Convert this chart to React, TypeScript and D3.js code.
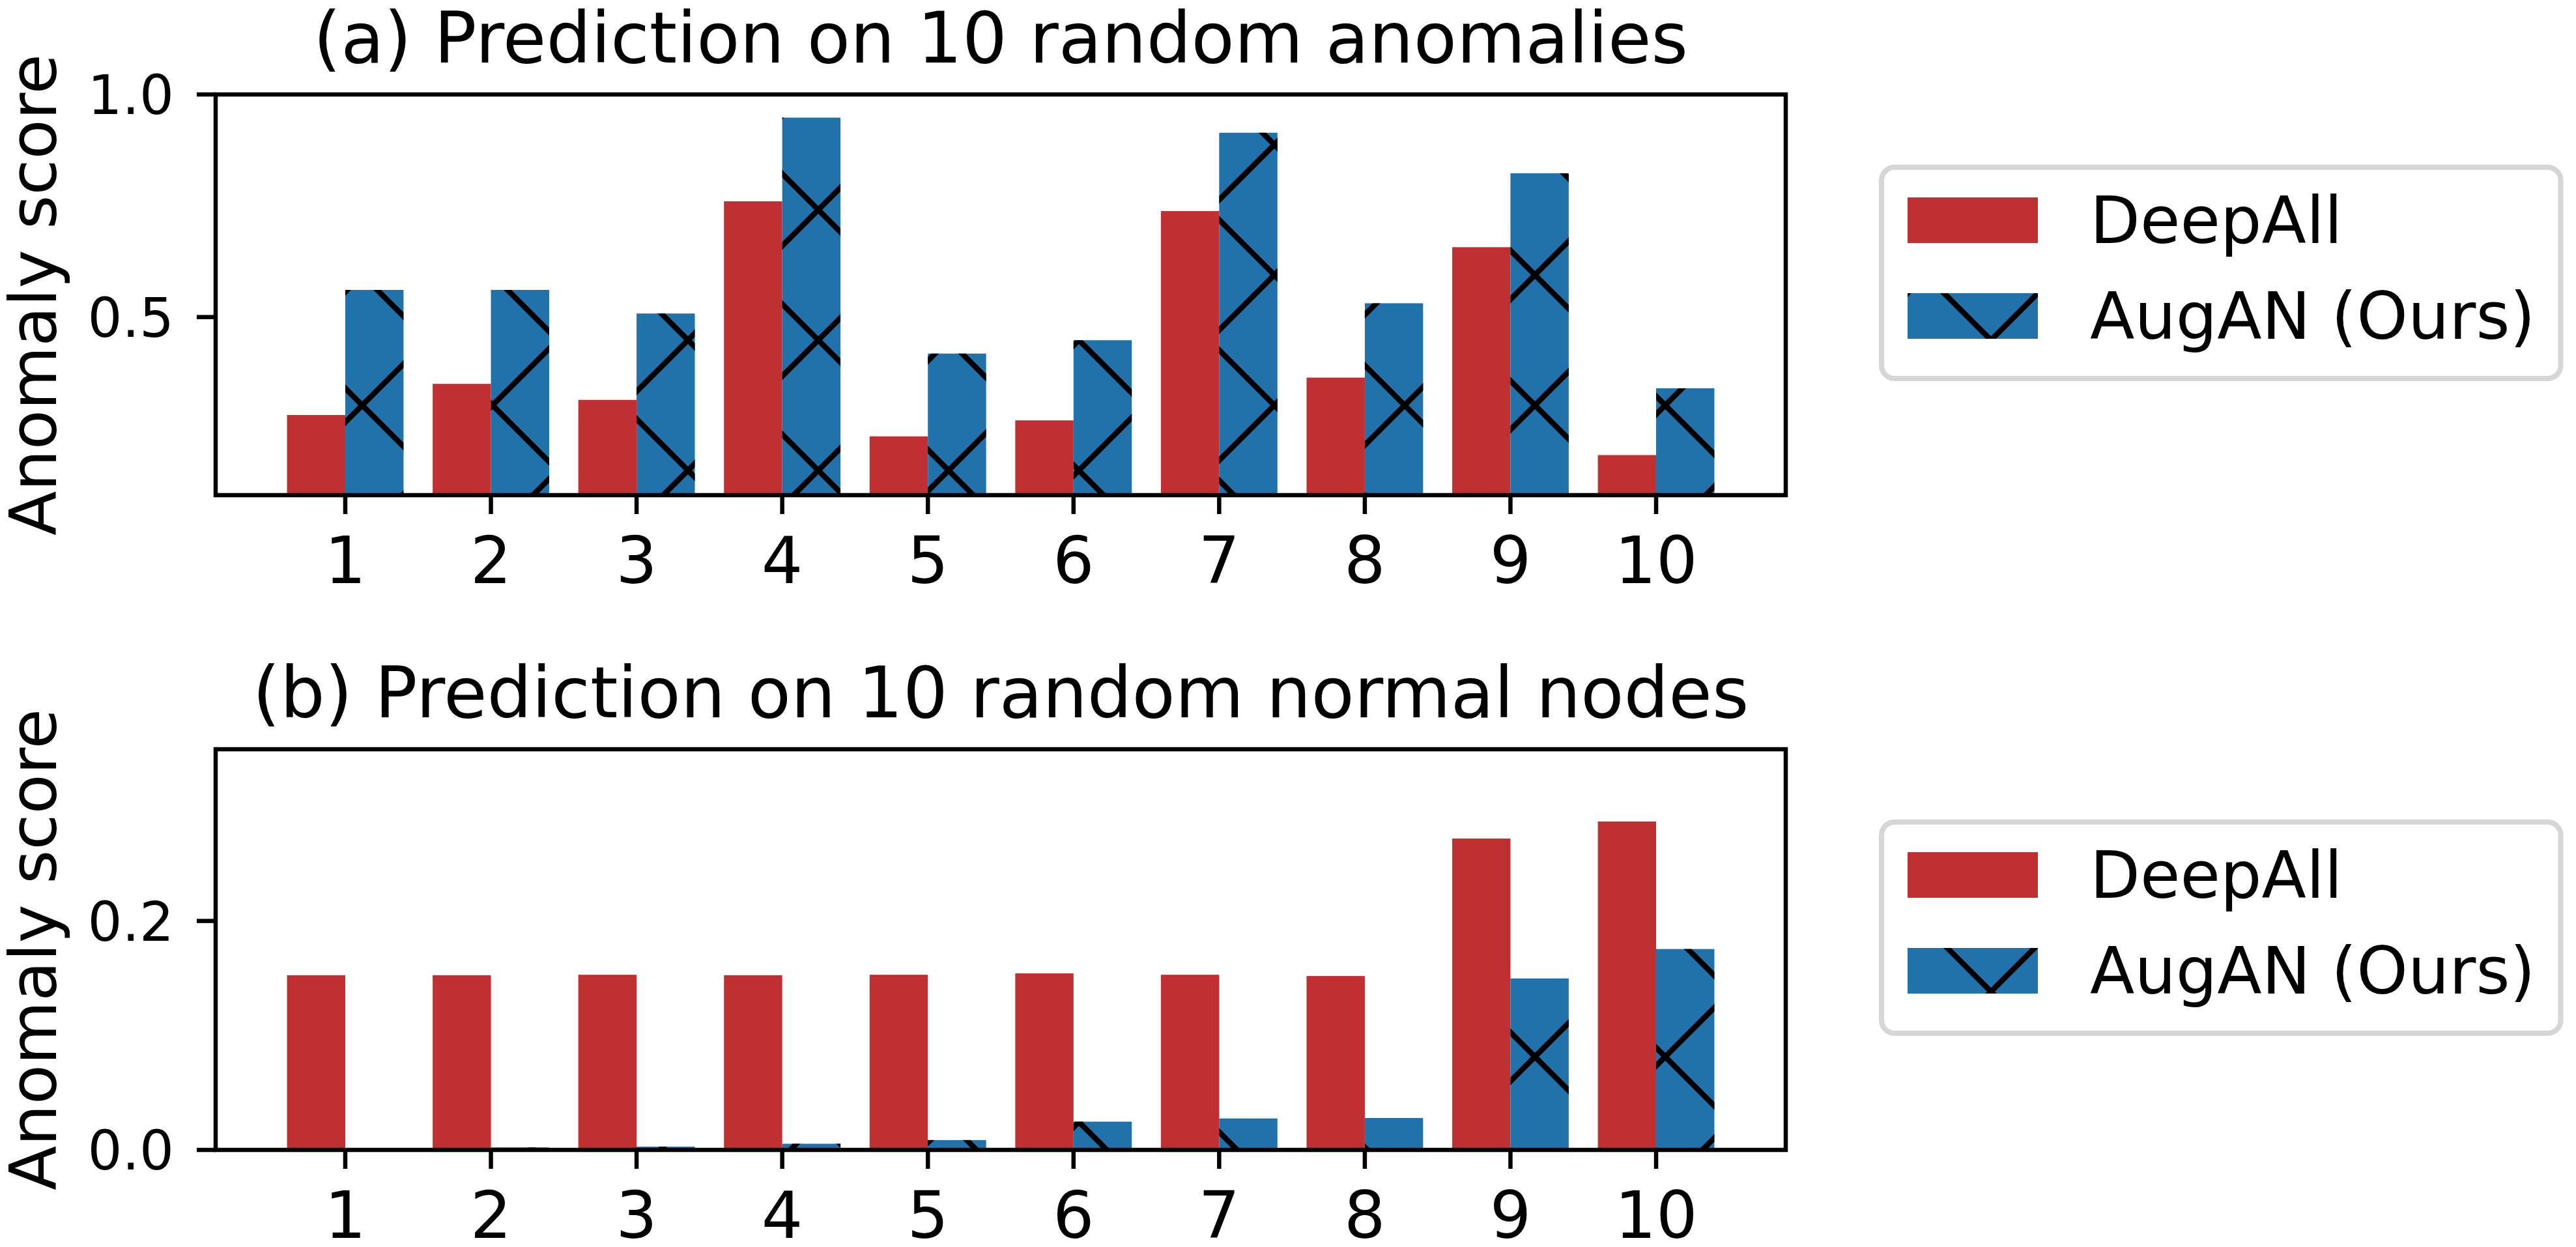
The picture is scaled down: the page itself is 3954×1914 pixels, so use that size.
import React from 'react';
import * as d3 from 'd3';

const categories = ['1', '2', '3', '4', '5', '6', '7', '8', '9', '10'];
const anomDeepAll = [0.280, 0.350, 0.314, 0.760, 0.232, 0.268, 0.738, 0.364, 0.657, 0.190];
const anomAugAN = [0.561, 0.561, 0.508, 0.948, 0.418, 0.448, 0.914, 0.531, 0.823, 0.340];
const normDeepAll = [0.1526, 0.1526, 0.1530, 0.1526, 0.1530, 0.1542, 0.1530, 0.1519, 0.2720, 0.2869];
const normAugAN = [0.0008, 0.0022, 0.0029, 0.0054, 0.0086, 0.0247, 0.0275, 0.0279, 0.1498, 0.1755];
const topTicks = [0.5, 1.0];
const bottomTicks = [0.0, 0.2];
const seriesNames = ['DeepAll', 'AugAN (Ours)'];
const titles = ['(a) Prediction on 10 random anomalies', '(b) Prediction on 10 random normal nodes'];

const W = 3954;
const H = 1914;
const RED = '#c02f31';
const BLUE = '#2171aa';
const FONT = 'DejaVu Sans, Verdana, sans-serif';

const xScale = d3.scaleLinear().domain([-0.89, 9.89]).range([331, 2741]);

type PanelProps = {
  top: number;
  domain: [number, number];
  ticks: number[];
  red: number[];
  blue: number[];
  title: string;
};

const Panel = ({ top, domain, ticks, red, blue, title }: PanelProps) => {
  const bottom = top + 615;
  const y = d3.scaleLinear().domain(domain).range([bottom, top]);
  const [x0, x1] = xScale.range();
  const base = y(domain[0]);
  const fmt = d3.format('.1f');
  const legTop = top + 111.7;
  return (
    <g>
      {categories.map((c, i) => {
        const rx = xScale(i - 0.4);
        const bx = xScale(i);
        const w = xScale(i) - xScale(i - 0.4);
        const ry = y(red[i]);
        const by = y(blue[i]);
        return (
          <g key={c}>
            <rect x={rx} y={ry} width={w} height={base - ry} fill={RED} />
            <rect x={bx} y={by} width={w} height={base - by} fill={BLUE} />
            <rect x={bx} y={by} width={w} height={base - by} fill="url(#hatchX)" />
          </g>
        );
      })}
      {/* spines */}
      <rect x={x0} y={top} width={x1 - x0} height={bottom - top} fill="none" stroke="#000" strokeWidth={6.5} />
      {/* y ticks */}
      {ticks.map((t) => (
        <g key={t}>
          <line x1={x0 - 29} x2={x0} y1={y(t)} y2={y(t)} stroke="#000" strokeWidth={6.5} />
          <text x={267} y={y(t) + 30.4} textAnchor="end" fontSize={83.3} fontFamily={FONT} fill="#000">
            {fmt(t)}
          </text>
        </g>
      ))}
      {/* x ticks */}
      {categories.map((c, i) => (
        <g key={c}>
          <line x1={xScale(i)} x2={xScale(i)} y1={bottom} y2={bottom + 29} stroke="#000" strokeWidth={6.5} />
          <text x={xScale(i)} y={bottom + 135} textAnchor="middle" fontSize={100} fontFamily={FONT} fill="#000">
            {c}
          </text>
        </g>
      ))}
      {/* y label */}
      <text
        transform={`translate(86,${(top + bottom) / 2}) rotate(-90)`}
        textAnchor="middle"
        fontSize={100}
        fontFamily={FONT}
        fill="#000"
      >
        Anomaly score
      </text>
      {/* title */}
      <text x={(x0 + x1) / 2} y={top - 49.3} textAnchor="middle" fontSize={108.3} fontFamily={FONT} fill="#000">
        {title}
      </text>
      {/* legend */}
      <rect x={2888} y={legTop} width={1042.5} height={324.3} rx={20} ry={20} fill="#fff" stroke="#d6d6d6" strokeWidth={8} />
      <rect x={2928} y={legTop + 46.3} width={200} height={70} fill={RED} />
      <text x={3208} y={legTop + 116.3} fontSize={100} fontFamily={FONT} fill="#000">
        {seriesNames[0]}
      </text>
      <rect x={2928} y={legTop + 193.3} width={200} height={70} fill={BLUE} />
      <rect x={2928} y={legTop + 193.3} width={200} height={70} fill="url(#hatchX)" />
      <text x={3208} y={legTop + 263.3} fontSize={100} fontFamily={FONT} fill="#000">
        {seriesNames[1]}
      </text>
    </g>
  );
};

export default function App() {
  const lw = 8.5;
  return (
    <svg
      width={W}
      height={H}
      viewBox={`0 0 ${W} ${H}`}
      style={{ position: 'absolute', left: 0, top: 0, background: '#fff' }}
    >
      <defs>
        <pattern id="hatchX" patternUnits="userSpaceOnUse" x={556} y={622} width={200} height={200}>
          <line x1={-20} y1={-20} x2={220} y2={220} stroke="#000" strokeWidth={lw} />
          <line x1={180} y1={-20} x2={420} y2={220} stroke="#000" strokeWidth={lw} />
          <line x1={-220} y1={-20} x2={20} y2={220} stroke="#000" strokeWidth={lw} />
          <line x1={-20} y1={220} x2={220} y2={-20} stroke="#000" strokeWidth={lw} />
          <line x1={-220} y1={220} x2={20} y2={-20} stroke="#000" strokeWidth={lw} />
          <line x1={180} y1={220} x2={420} y2={-20} stroke="#000" strokeWidth={lw} />
        </pattern>
      </defs>
      <rect x={0} y={0} width={W} height={H} fill="#fff" />
      <Panel top={145} domain={[0.1, 1.0]} ticks={topTicks} red={anomDeepAll} blue={anomAugAN} title={titles[0]} />
      <Panel top={1150} domain={[0, 0.35]} ticks={bottomTicks} red={normDeepAll} blue={normAugAN} title={titles[1]} />
    </svg>
  );
}
